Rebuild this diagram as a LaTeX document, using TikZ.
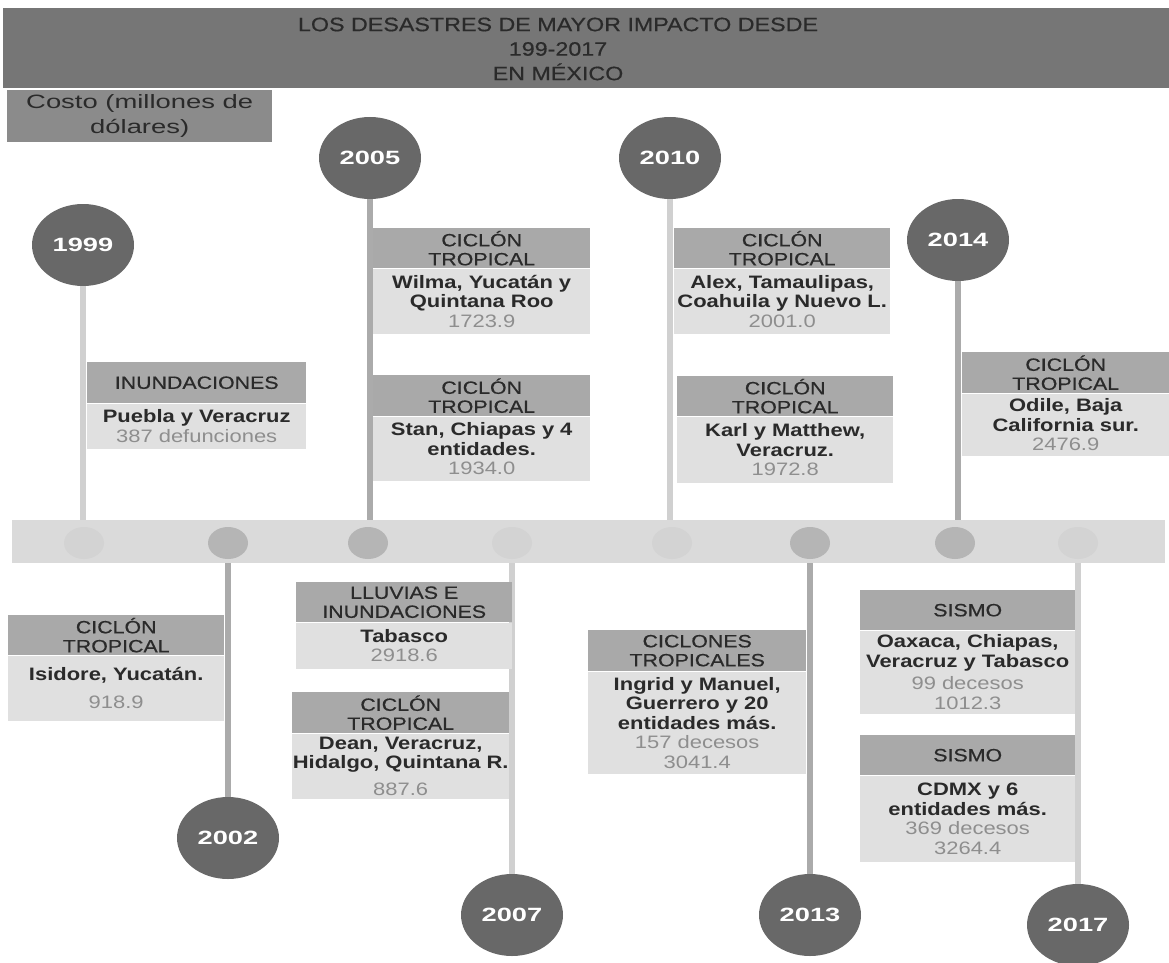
\documentclass[tikz,border=0pt]{standalone}
\usepackage{fontspec}
\setmainfont{Liberation Sans}[FakeStretch=1.22]
\newfontfamily\widefont{Liberation Sans}[FakeStretch=1.42]
\newfontfamily\headfont{Liberation Sans}[FakeStretch=1.2, FakeBold=0.5]
\usetikzlibrary{positioning, shapes.geometric}

\definecolor{titlegray}{HTML}{767676}
\definecolor{costgray}{HTML}{8B8B8B}
\definecolor{headgray}{HTML}{A9A9A9}
\definecolor{bodygray}{HTML}{E0E0E0}
\definecolor{yeargray}{HTML}{686868}
\definecolor{axisgray}{HTML}{DADADA}
\definecolor{inkgray}{HTML}{2A2A2A}
\definecolor{valgray}{HTML}{8E8E8E}
\definecolor{stemlight}{HTML}{D0D0D0}
\definecolor{stemdark}{HTML}{ABABAB}
\definecolor{dotlight}{HTML}{D3D3D3}
\definecolor{dotdark}{HTML}{B5B5B5}

\tikzset{
  head/.style={fill=headgray, text=inkgray, anchor=north west, inner sep=0pt,
    align=center, font=\headfont\fontsize{17.8}{19}\selectfont},
  body/.style={fill=bodygray, text=inkgray, inner sep=0pt, align=center,
    font=\fontsize{18}{19.5}\selectfont\bfseries},
  year/.style={ellipse, fill=yeargray, text=white, minimum width=102pt,
    minimum height=82pt, inner sep=0pt,
    font=\widefont\bfseries\fontsize{19.2}{20}\selectfont},
  dot/.style={ellipse, minimum width=40pt, minimum height=32pt, inner sep=0pt},
  stem/.style={line width=6pt},
}
\newcommand{\val}[1]{{\mdseries\color{valgray}#1}}

\begin{document}
\begin{tikzpicture}[x=1pt, y=-1pt]
  \clip (0,0) rectangle (1169,963);

  % title
  \node[fill=titlegray, anchor=north west, minimum width=1166pt,
    minimum height=80pt, inner sep=0pt] (titlebar) at (3,8) {};
  \node[text=inkgray, align=center, font=\headfont\fontsize{19.4}{24.5}\selectfont]
    (title) at (558,49) {LOS DESASTRES DE MAYOR IMPACTO DESDE\\199-2017\\EN MÉXICO};
  \node[fill=costgray, anchor=north west, minimum width=265pt, minimum height=52pt,
    inner sep=0pt, align=center, text=inkgray,
    font=\widefont\fontsize{19.3}{25}\selectfont] (cost) at (7,90)
    {Costo (millones de\\dólares)};

  % time axis
  \node[fill=axisgray, anchor=north west, minimum width=1153pt, minimum height=43pt,
    inner sep=0pt] (axis) at (12,520) {};
  \foreach \yr/\px/\tone in {1999/84/dotlight, 2002/228/dotdark, 2005/368/dotdark,
      2007/512/dotlight, 2010/672/dotlight, 2013/810/dotdark, 2014/955/dotdark,
      2017/1078/dotlight}
    \node[dot, fill=\tone] (d\yr) at (\px,543) {};

  % years
  \foreach \yr/\px/\py/\side/\tone in {1999/83/245/north/stemlight,
      2002/228/838/south/stemdark, 2005/370/158/north/stemdark,
      2007/512/915/south/stemlight, 2010/670/158/north/stemlight,
      2013/810/915/south/stemdark, 2014/958/240/north/stemdark,
      2017/1078/925/south/stemlight}{
    \node[year] (y\yr) at (\px,\py) {\yr};
    \draw[stem, \tone] (y\yr) -- (y\yr |- axis.\side);
  }

  % events above the axis
  \node[head, text width=219pt, minimum height=41pt] (h1999) at (87,362) {INUNDACIONES};
  \node[body, text width=219pt, minimum height=45pt, below=0pt of h1999] (b1999)
    {Puebla y Veracruz\\\val{387 defunciones}};

  \node[head, text width=217pt, minimum height=40pt] (h2005a) at (373,228) {CICLÓN\\TROPICAL};
  \node[body, text width=217pt, minimum height=65pt, below=0pt of h2005a] (b2005a)
    {Wilma, Yucatán y\\Quintana Roo\\\val{1723.9}};

  \node[head, text width=217pt, minimum height=41pt] (h2005b) at (373,375) {CICLÓN\\TROPICAL};
  \node[body, text width=217pt, minimum height=64pt, below=0pt of h2005b] (b2005b)
    {Stan, Chiapas y 4\\entidades.\\\val{1934.0}};

  \node[head, text width=216pt, minimum height=40pt] (h2010a) at (674,228) {CICLÓN\\TROPICAL};
  \node[body, text width=216pt, minimum height=65pt, below=0pt of h2010a] (b2010a)
    {Alex, Tamaulipas,\\Coahuila y Nuevo L.\\\val{2001.0}};

  \node[head, text width=216pt, minimum height=40pt] (h2010b) at (677,376) {CICLÓN\\TROPICAL};
  \node[body, text width=216pt, minimum height=66pt, below=0pt of h2010b] (b2010b)
    {Karl y Matthew,\\Veracruz.\\\val{1972.8}};

  \node[head, text width=207pt, minimum height=41pt] (h2014) at (962,352) {CICLÓN\\TROPICAL};
  \node[body, text width=207pt, minimum height=62pt, below=0pt of h2014] (b2014)
    {Odile, Baja\\California sur.\\\val{2476.9}};

  % events below the axis
  \node[head, text width=216pt, minimum height=40pt] (h2002) at (8,615) {CICLÓN\\TROPICAL};
  \node[body, text width=216pt, minimum height=65pt, below=0pt of h2002] (b2002)
    {Isidore, Yucatán.\\[8pt]\val{918.9}};

  \node[head, text width=216pt, minimum height=40pt] (h2007a) at (296,582) {LLUVIAS E\\INUNDACIONES};
  \node[body, text width=216pt, minimum height=46pt, below=0pt of h2007a] (b2007a)
    {Tabasco\\\val{2918.6}};

  \node[head, text width=217pt, minimum height=41pt] (h2007b) at (292,692) {CICLÓN\\TROPICAL};
  \node[body, text width=217pt, minimum height=65pt, below=0pt of h2007b] (b2007b)
    {Dean, Veracruz,\\Hidalgo, Quintana R.\\[7pt]\val{887.6}};

  \node[head, text width=218pt, minimum height=41pt] (h2013) at (588,630) {CICLONES\\TROPICALES};
  \node[body, text width=218pt, minimum height=102pt, below=0pt of h2013] (b2013)
    {Ingrid y Manuel,\\Guerrero y 20\\entidades más.\\\val{157 decesos}\\\val{3041.4}};

  \node[head, text width=215pt, minimum height=40pt] (h2017a) at (860,590) {SISMO};
  \node[body, text width=215pt, minimum height=83pt, below=0pt of h2017a] (b2017a)
    {Oaxaca, Chiapas,\\Veracruz y Tabasco\\[3pt]\val{99 decesos}\\\val{1012.3}};

  \node[head, text width=215pt, minimum height=40pt] (h2017b) at (860,735) {SISMO};
  \node[body, text width=215pt, minimum height=86pt, below=0pt of h2017b] (b2017b)
    {CDMX y 6\\entidades más.\\\val{369 decesos}\\\val{3264.4}};
\end{tikzpicture}
\end{document}
